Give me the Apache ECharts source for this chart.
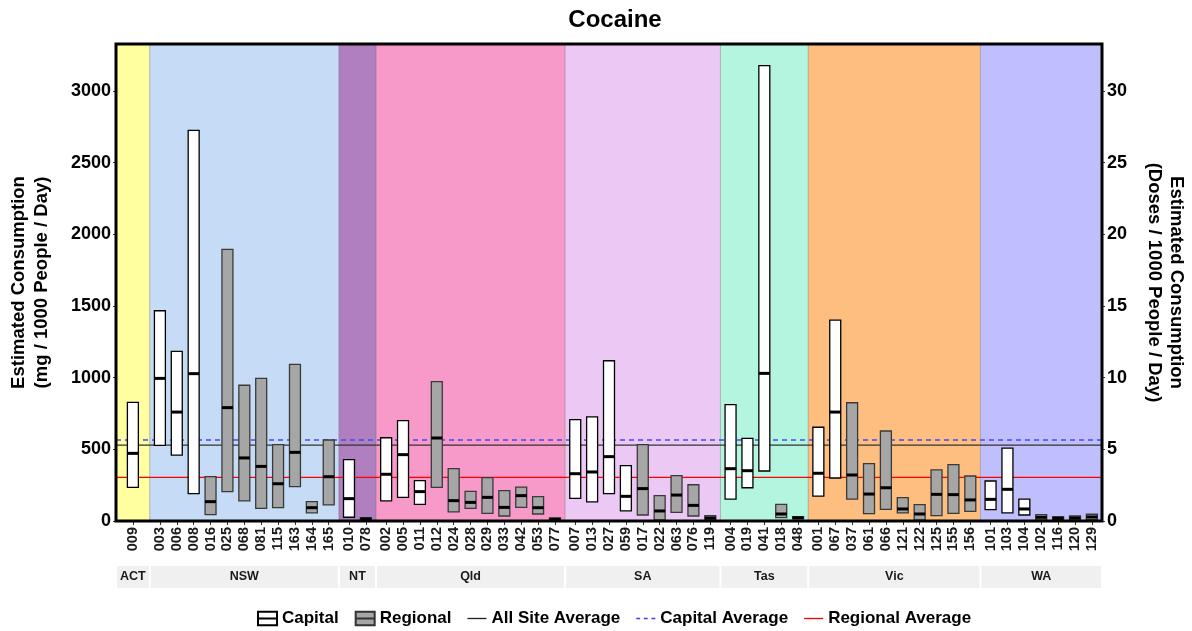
<!DOCTYPE html>
<html>
<head>
<meta charset="utf-8">
<script src="https://cdn.jsdelivr.net/npm/echarts@6/dist/echarts.min.js"></script>
<style>html,body{margin:0;padding:0;background:#fff}#c{width:1192px;height:631px}</style>
</head>
<body>
<div id="c"></div>
<script>
// ---------- data ----------
const states = ['ACT', 'NSW', 'NT', 'Qld', 'SA', 'Tas', 'Vic', 'WA'];
const siteCodes = ['009',
  '003','006','008','016','025','068','081','115','163','164','165',
  '010','078',
  '002','005','011','012','024','028','029','033','042','053','077',
  '007','013','027','059','017','022','063','076','119',
  '004','019','041','018','048',
  '001','067','037','061','066','121','122','125','155','156',
  '101','103','104','102','116','120','129'];
const siteStates = ['ACT',
  'NSW','NSW','NSW','NSW','NSW','NSW','NSW','NSW','NSW','NSW','NSW',
  'NT','NT',
  'Qld','Qld','Qld','Qld','Qld','Qld','Qld','Qld','Qld','Qld','Qld',
  'SA','SA','SA','SA','SA','SA','SA','SA','SA',
  'Tas','Tas','Tas','Tas','Tas',
  'Vic','Vic','Vic','Vic','Vic','Vic','Vic','Vic','Vic','Vic',
  'WA','WA','WA','WA','WA','WA','WA'];
const siteTypes = ['Capital',
  'Capital','Capital','Capital','Regional','Regional','Regional','Regional','Regional','Regional','Regional','Regional',
  'Capital','Regional',
  'Capital','Capital','Capital','Regional','Regional','Regional','Regional','Regional','Regional','Regional','Regional',
  'Capital','Capital','Capital','Capital','Regional','Regional','Regional','Regional','Regional',
  'Capital','Capital','Capital','Regional','Regional',
  'Capital','Capital','Regional','Regional','Regional','Regional','Regional','Regional','Regional','Regional',
  'Capital','Capital','Capital','Regional','Regional','Regional','Regional'];
const lowValues = [235,
  528,460,191,44,205,140,88,93,240,56,112,
  26,5,
  140,165,116,235,63,88,53,35,95,49,5,
  158,133,191,70,42,7,60,35,7,
  153,232,349,23,15,
  174,300,153,51,81,56,7,37,53,67,
  79,56,42,7,5,7,10];
const medianValues = [472,
  995,760,1028,135,791,440,381,260,479,93,309,
  156,14,
  326,463,205,579,142,130,165,95,177,93,12,
  330,342,449,172,226,70,181,109,21,
  365,351,1030,49,22,
  333,760,321,188,232,84,49,186,184,147,
  151,221,84,26,18,21,28];
const highValues = [828,
  1467,1184,2726,309,1895,947,995,533,1093,135,565,
  428,23,
  581,700,281,972,365,207,302,212,237,170,21,
  707,726,1118,386,533,177,316,253,37,
  812,577,3177,116,30,
  654,1402,825,400,628,163,114,356,393,314,
  279,509,153,44,30,35,47];
const allSiteAverage = 530;
const capitalAverage = 565;
const regionalAverage = 305;
const leftTicks = [0, 500, 1000, 1500, 2000, 2500, 3000];
const rightTicks = [0, 5, 10, 15, 20, 25, 30];

// ---------- style ----------
const stateColors = ['#ffffa0', '#c6dcf6', '#b07fc0', '#f799c9', '#ecc9f5', '#b4f5df', '#fdbe80', '#c0bffd'];
const FONT = 'Liberation Sans, Arial, Helvetica, sans-serif';
const yMax = 3328;

// ---------- facet layout (discrete-scale units) ----------
const panels = [];
const positions = [];
let cursor = 0;
states.forEach((s, si) => {
  const idx = [];
  siteStates.forEach((st, i) => { if (st === s) idx.push(i); });
  const n = idx.length;
  const width = n === 1 ? 2 : n + 0.2;
  const first = n === 1 ? 1 : 0.6;
  idx.forEach((i, k) => { positions[i] = cursor + first + k; });
  panels.push([cursor, cursor + width, si]);
  cursor += width;
});
const totalUnits = cursor;

const capitalData = [], regionalData = [];
siteCodes.forEach((c, i) => {
  const row = [positions[i], lowValues[i], medianValues[i], highValues[i]];
  (siteTypes[i] === 'Capital' ? capitalData : regionalData).push(row);
});

function boxRenderer(stroke) {
  return function (params, api) {
    const x = api.value(0);
    const w = api.size([0.65, 0])[0];
    const pLo = api.coord([x, api.value(1)]);
    const pMd = api.coord([x, api.value(2)]);
    const pHi = api.coord([x, api.value(3)]);
    return {
      type: 'group',
      children: [
        { type: 'rect', shape: { x: pLo[0] - w / 2, y: pHi[1], width: w, height: pLo[1] - pHi[1] },
          style: { fill: api.visual('color'), stroke: stroke, lineWidth: 1.3 } },
        { type: 'line', shape: { x1: pLo[0] - w / 2, y1: pMd[1], x2: pLo[0] + w / 2, y2: pMd[1] },
          style: { stroke: '#000', lineWidth: 3 } }
      ]
    };
  };
}

const lineIcon = 'path://M0,0M0,6.3H20V7.7H0ZM20,14';
const dashIcon = 'path://M0,0M0,6.3h4v1.4h-4zM8,6.3h4v1.4h-4zM16,6.3h4v1.4h-4zM20,14';

const chart = echarts.init(document.getElementById('c'), null, { renderer: 'canvas' });
const option = {
  animation: false,
  backgroundColor: '#ffffff',
  title: {
    text: 'Cocaine', left: 610, top: 3, textAlign: 'center',
    textStyle: { fontFamily: FONT, fontSize: 24, fontWeight: 'bold', color: '#000' }
  },
  legend: {
    bottom: -1, left: 252, itemGap: 16, itemWidth: 19, itemHeight: 14,
    textStyle: { fontFamily: FONT, fontSize: 17, fontWeight: 'bold', color: '#000' },
    data: [
      { name: 'Capital', icon: 'path://M0,0H20V14H0ZM0,7H20' },
      { name: 'Regional', icon: 'path://M0,0H20V14H0ZM0,7H20' },
      { name: 'All Site Average', icon: lineIcon, itemStyle: { color: '#222', borderWidth: 0 } },
      { name: 'Capital Average', icon: dashIcon, itemStyle: { color: '#3a3af0', borderWidth: 0 } },
      { name: 'Regional Average', icon: lineIcon, itemStyle: { color: '#ff0000', borderWidth: 0 } }
    ]
  },
  grid: { left: 116, right: 90, top: 44, bottom: 110, outerBoundsMode: 'none', containLabel: false },
  xAxis: {
    type: 'value', min: 0, max: totalUnits,
    axisLine: { show: false }, splitLine: { show: false },
    axisTick: { show: true, customValues: positions, length: 4, lineStyle: { color: '#333' } },
    axisLabel: {
      customValues: positions, rotate: 90, margin: 6,
      fontFamily: FONT, fontSize: 14.5, fontWeight: 'bold', color: '#1a1a1a',
      formatter: function (v) {
        let best = 0, d = 1e9;
        positions.forEach((p, i) => { if (Math.abs(p - v) < d) { d = Math.abs(p - v); best = i; } });
        return siteCodes[best];
      }
    }
  },
  yAxis: [
    {
      type: 'value', min: 0, max: yMax, interval: 500, position: 'left',
      name: 'Estimated Consumption\n(mg / 1000 People / Day)', nameLocation: 'middle', nameGap: 63, nameRotate: 90,
      nameTextStyle: { fontFamily: FONT, fontSize: 18.5, fontWeight: 'bold', color: '#000', lineHeight: 23 },
      axisLine: { show: false }, splitLine: { show: false },
      axisTick: { show: true, length: 3, customValues: leftTicks, lineStyle: { color: '#333' } },
      axisLabel: { margin: 5, fontFamily: FONT, fontSize: 18, fontWeight: 'bold', color: '#000',
        customValues: leftTicks, formatter: (v) => String(v) }
    },
    {
      type: 'value', min: 0, max: yMax / 100, interval: 5, position: 'right',
      name: 'Estimated Consumption\n(Doses / 1000 People / Day)', nameLocation: 'middle', nameGap: 41, nameRotate: -90,
      nameTextStyle: { fontFamily: FONT, fontSize: 18.5, fontWeight: 'bold', color: '#000', lineHeight: 22 },
      axisLine: { show: false }, splitLine: { show: false },
      axisTick: { show: true, length: 3, customValues: rightTicks, lineStyle: { color: '#333' } },
      axisLabel: { margin: 5, fontFamily: FONT, fontSize: 18, fontWeight: 'bold', color: '#000',
        customValues: rightTicks, formatter: (v) => String(v) }
    }
  ],
  series: [
    {
      name: 'panels', type: 'custom', z: 0, silent: true, clip: false,
      data: panels,
      renderItem: function (params, api) {
        const p0 = api.coord([api.value(0), yMax]);
        const p1 = api.coord([api.value(1), 0]);
        const idx = api.value(2);
        const children = [
          { type: 'rect', shape: { x: p0[0], y: p0[1], width: p1[0] - p0[0], height: p1[1] - p0[1] },
            style: { fill: stateColors[idx] } },
          { type: 'rect', shape: { x: p0[0] + 1, y: p1[1] + 45, width: p1[0] - p0[0] - 2, height: 22 },
            style: { fill: '#f0f0f0' } },
          { type: 'text', style: { text: states[idx], x: (p0[0] + p1[0]) / 2, y: p1[1] + 56,
            align: 'center', verticalAlign: 'middle', font: 'bold 12.5px ' + FONT, fill: '#1a1a1a' } }
        ];
        if (idx > 0) {
          children.push({ type: 'line', shape: { x1: p0[0], y1: p0[1], x2: p0[0], y2: p1[1] },
            style: { stroke: 'rgba(110,110,110,0.45)', lineWidth: 1 } });
        }
        return { type: 'group', children: children };
      }
    },
    {
      name: 'All Site Average', type: 'line', z: 3, symbol: 'none', silent: true,
      data: [[0, allSiteAverage], [totalUnits, allSiteAverage]],
      lineStyle: { color: '#333333', width: 1.2 }, itemStyle: { color: '#222' }
    },
    {
      name: 'Capital Average', type: 'line', z: 3, symbol: 'none', silent: true,
      data: [[0, capitalAverage], [totalUnits, capitalAverage]],
      lineStyle: { color: '#4a4af0', width: 1.6, type: [5, 4] }, itemStyle: { color: '#3a3af0' }
    },
    {
      name: 'Regional Average', type: 'line', z: 3, symbol: 'none', silent: true,
      data: [[0, regionalAverage], [totalUnits, regionalAverage]],
      lineStyle: { color: '#ff0000', width: 1.2 }, itemStyle: { color: '#ff0000' }
    },
    {
      name: 'Capital', type: 'custom', z: 5, clip: false,
      data: capitalData, encode: { x: 0, y: [1, 2, 3] },
      itemStyle: { color: '#ffffff', borderColor: '#000000', borderWidth: 1.3 },
      renderItem: boxRenderer('#000000')
    },
    {
      name: 'Regional', type: 'custom', z: 5, clip: false,
      data: regionalData, encode: { x: 0, y: [1, 2, 3] },
      itemStyle: { color: '#a6a6a6', borderColor: '#333333', borderWidth: 1.3 },
      renderItem: boxRenderer('#3a3a3a')
    },
    {
      name: 'frame', type: 'custom', z: 10, silent: true, clip: false,
      data: [[0, totalUnits]],
      renderItem: function (params, api) {
        const p0 = api.coord([api.value(0), yMax]);
        const p1 = api.coord([api.value(1), 0]);
        return { type: 'rect', shape: { x: p0[0], y: p0[1], width: p1[0] - p0[0], height: p1[1] - p0[1] },
          style: { fill: null, stroke: '#000', lineWidth: 3 } };
      }
    }
  ]
};
chart.setOption(option);
</script>
</body>
</html>
